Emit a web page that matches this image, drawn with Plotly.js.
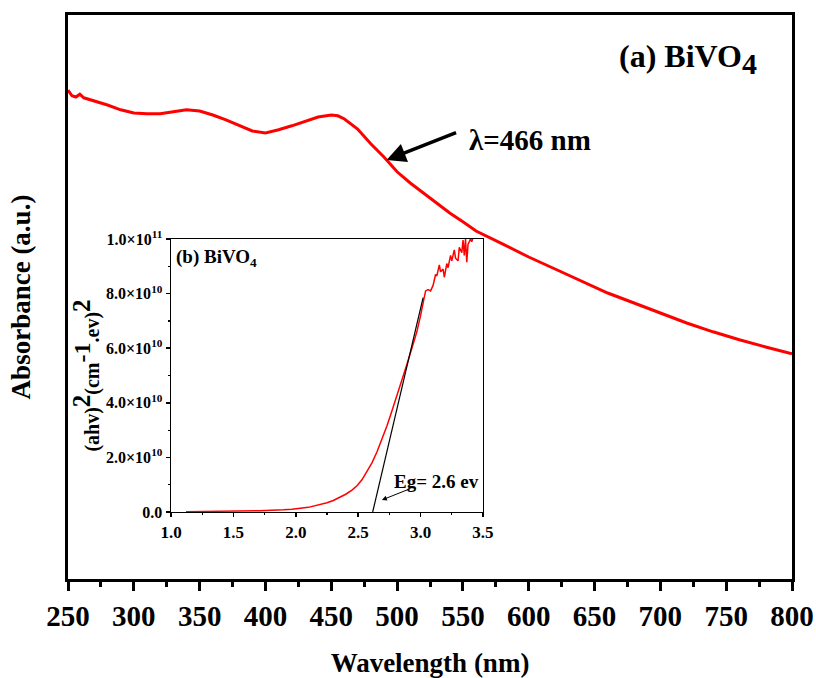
<!DOCTYPE html>
<html>
<head>
<meta charset="utf-8">
<script src="https://cdn.plot.ly/plotly-3.0.1.min.js"></script>
<style>html,body{margin:0;padding:0;background:#fff;}#chart{width:816px;height:678px;}</style>
</head>
<body>
<div id="chart"></div>
<script>
// Main UV-Vis spectrum (a) BiVO4
const wavelength = [250,253,256,259,262,270,280,290,300,310,320,330,340,350,360,370,380,390,400,410,420,430,440,450,455,460,466,470,480,490,500,510,520,530,540,550,560,580,600,620,640,660,680,700,720,740,760,780,800];
const absorbance = [1.222,1.208,1.205,1.212,1.203,1.195,1.185,1.173,1.165,1.163,1.163,1.168,1.173,1.170,1.160,1.148,1.133,1.120,1.115,1.123,1.133,1.145,1.155,1.160,1.158,1.150,1.135,1.125,1.088,1.055,1.018,0.990,0.965,0.940,0.915,0.893,0.870,0.838,0.805,0.775,0.745,0.715,0.690,0.665,0.640,0.618,0.598,0.580,0.563];
const wavelengthTicks = [250,300,350,400,450,500,550,600,650,700,750,800];

// Inset Tauc plot (b) BiVO4
const photonEnergy = [1.12,1.3,1.5,1.71,1.9,1.97,2.1,2.16,2.25,2.30,2.35,2.40,2.45,2.49,2.53,2.57,2.61,2.65,2.69,2.73,2.77,2.81,2.85,2.89,2.93,2.97,3.00,3.02,3.04,3.06,3.08,3.10,3.12,3.13,3.15,3.16,3.18,3.19,3.21,3.22,3.24,3.25,3.27,3.28,3.30,3.31,3.33,3.34,3.35,3.36,3.37,3.38,3.40,3.41,3.42];
const taucValue = [1e8,2e8,3e8,5e8,8e8,1.0e9,1.7e9,2.3e9,3.4e9,4.2e9,5.2e9,6.5e9,8.0e9,9.6e9,1.18e10,1.47e10,1.80e10,2.20e10,2.65e10,3.15e10,3.70e10,4.25e10,4.80e10,5.40e10,6.00e10,6.60e10,7.20e10,7.70e10,8.10e10,8.15e10,8.10e10,8.30e10,8.70e10,8.65e10,9.05e10,8.80e10,8.90e10,8.60e10,9.10e10,8.95e10,9.40e10,9.20e10,9.60e10,9.30e10,9.20e10,9.70e10,9.50e10,9.96e10,9.40e10,1.0e11,9.15e10,9.80e10,1.0e11,9.90e10,1.005e11];
const tangentX = [2.616, 3.02];
const tangentY = [0, 7.85e10];
const insetYTicks = [0, 2e10, 4e10, 6e10, 8e10, 1e11];
const insetYTickText = ['0.0','2.0×10<sup>10</sup>','4.0×10<sup>10</sup>','6.0×10<sup>10</sup>','8.0×10<sup>10</sup>','1.0×10<sup>11</sup>'];
const insetXTicks = [1.0,1.5,2.0,2.5,3.0,3.5];
const insetXTickText = ['1.0','1.5','2.0','2.5','3.0','3.5'];

const FF = 'Liberation Serif, Times New Roman, serif';

const traces = [
  {x: wavelength, y: absorbance, xaxis:'x', yaxis:'y', type:'scatter', mode:'lines',
   line:{color:'#ff0000', width:3}, hoverinfo:'skip'},
  {x: photonEnergy, y: taucValue, xaxis:'x2', yaxis:'y2', type:'scatter', mode:'lines',
   line:{color:'#ff0000', width:1.5}, hoverinfo:'skip'},
  {x: tangentX, y: tangentY, xaxis:'x2', yaxis:'y2', type:'scatter', mode:'lines',
   line:{color:'#000000', width:1.2}, hoverinfo:'skip'}
];

const layout = {
  width:816, height:678,
  margin:{l:68, r:24, t:15, b:99},
  paper_bgcolor:'#ffffff', plot_bgcolor:'rgba(0,0,0,0)',
  showlegend:false,
  font:{family:FF, color:'#000', weight:700},
  xaxis:{
    domain:[0,1], range:[250,800], showgrid:false, zeroline:false,
    showline:true, linewidth:3, linecolor:'#000', mirror:true,
    ticks:'outside', ticklen:9, tickwidth:3, tickcolor:'#000',
    tickvals: wavelengthTicks,
    tickfont:{family:FF, size:29, color:'#000', weight:700},
    minor:{dtick:25, ticks:'outside', ticklen:5, tickwidth:3, tickcolor:'#000'},
    title:{text:'Wavelength (nm)', font:{family:FF, size:27, color:'#000', weight:700}, standoff:28}
  },
  yaxis:{
    domain:[0,1], range:[0,1.41], showgrid:false, zeroline:false,
    showline:true, linewidth:3, linecolor:'#000', mirror:true,
    ticks:'', showticklabels:false,
    title:{text:'Absorbance (a.u.)', font:{family:FF, size:27, color:'#000', weight:700}, standoff:27}
  },
  xaxis2:{
    domain:[0.1423,0.5732], anchor:'y2', range:[1.0,3.5], showgrid:false, zeroline:false,
    showline:true, linewidth:1.5, linecolor:'#000', mirror:true,
    ticks:'outside', ticklen:4, tickwidth:1.5, tickcolor:'#000',
    tickvals: insetXTicks, ticktext: insetXTickText,
    tickfont:{family:FF, size:17, color:'#000', weight:700},
    minor:{dtick:0.25, ticks:'outside', ticklen:2, tickwidth:1.2, tickcolor:'#000'}
  },
  yaxis2:{
    domain:[0.1188,0.6028], anchor:'x2', range:[0,1e11], showgrid:false, zeroline:false,
    showline:true, linewidth:1.5, linecolor:'#000', mirror:true,
    ticks:'outside', ticklen:4, tickwidth:1.5, tickcolor:'#000',
    tickvals: insetYTicks, ticktext: insetYTickText,
    tickfont:{family:FF, size:16, color:'#000', weight:700},
    minor:{dtick:1e10, ticks:'outside', ticklen:2, tickwidth:1.2, tickcolor:'#000'},
    title:{text:'(ahv)<sup><span style="font-size:25px">2</span></sup>(cm<sup><span style="font-size:24px">-1</span></sup>.ev)<sup><span style="font-size:25px">2</span></sup>',
           font:{family:FF, size:20, color:'#000', weight:700}, standoff:1}
  },
  annotations:[
    {xref:'x', yref:'y', x:667, y:1.30, xanchor:'left', yanchor:'middle', showarrow:false,
     text:'(a) BiVO<sub><span style="font-size:30px">4</span></sub>', font:{family:FF, size:32, color:'#000', weight:700}},
    {xref:'x', yref:'y', x:553, y:1.098, xanchor:'left', yanchor:'middle', showarrow:false,
     text:'λ=466 nm', font:{family:FF, size:29, color:'#000', weight:700}},
    {xref:'x', yref:'y', x:492, y:1.0475, axref:'pixel', ayref:'pixel', ax:71, ay:-28,
     text:'', showarrow:true, arrowhead:2, arrowsize:1.1, arrowwidth:3.5, arrowcolor:'#000'},
    {xref:'x2', yref:'y2', x:1.02, y:9.3e10, xanchor:'left', yanchor:'middle', showarrow:false,
     text:'(b) BiVO<sub>4</sub>', font:{family:FF, size:19, color:'#000', weight:700}},
    {xref:'x2', yref:'y2', x:3.13, y:1.1e10, xanchor:'center', yanchor:'middle', showarrow:false,
     text:'Eg= 2.6 ev', font:{family:FF, size:19, color:'#000', weight:700}},
    {xref:'x2', yref:'y2', x:2.69, y:0.44e10, axref:'pixel', ayref:'pixel', ax:30, ay:-12,
     text:'', showarrow:true, arrowhead:2, arrowsize:1, arrowwidth:1, arrowcolor:'#000'},
    {xref:'x2', yref:'y2', x:2.07, y:-1.36e10, xanchor:'center', yanchor:'middle', showarrow:false,
     text:'photon energy hv (ev)', font:{family:FF, size:17, color:'#000', weight:700}}
  ]
};

Plotly.newPlot('chart', traces, layout, {displayModeBar:false, staticPlot:true});
</script>
</body>
</html>
